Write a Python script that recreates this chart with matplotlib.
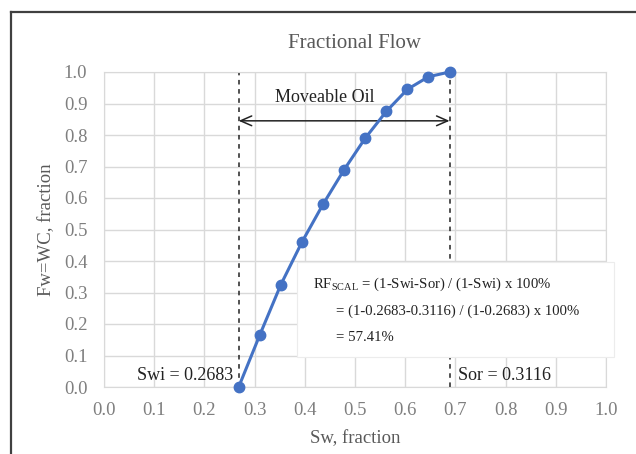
import matplotlib
matplotlib.use("Agg")
import matplotlib.pyplot as plt
from matplotlib.patches import Rectangle
from matplotlib.lines import Line2D

sw = [0.2683, 0.3103, 0.3523, 0.3943, 0.4363, 0.4784, 0.5204, 0.5624, 0.6044, 0.6464, 0.6884]
fw = [0.0, 0.165, 0.325, 0.46, 0.58, 0.69, 0.79, 0.875, 0.945, 0.985, 1.0]
swi = 0.2683
sor = 0.3116
xticks = [i / 10 for i in range(11)]
yticks = [i / 10 for i in range(11)]

plt.rcParams['font.family'] = ['Liberation Serif', 'DejaVu Serif']
gray = '#7f7f7f'

fig = plt.figure(figsize=(6.36, 4.54), dpi=100)
ax = fig.add_axes([104/636, 1-387/454, (606-104)/636, (387-72)/454])

# figure border
fig.add_artist(Line2D([11/636, 11/636], [0, 1-11.5/454], transform=fig.transFigure, color='#404040', lw=1.6))
fig.add_artist(Line2D([11/636, 1], [1-11.5/454, 1-11.5/454], transform=fig.transFigure, color='#404040', lw=1.6))

ax.set_xlim(0, 1)
ax.set_ylim(0, 1)
ax.set_xticks(xticks)
ax.set_yticks(yticks)
ax.set_xticklabels([f"{v:.1f}" for v in xticks])
ax.set_yticklabels([f"{v:.1f}" for v in yticks])
ax.grid(True, color='#d9d9d9', lw=1)
ax.set_axisbelow(True)
for s in ax.spines.values():
    s.set_color('#d9d9d9')
ax.tick_params(axis='both', length=0, colors=gray, labelsize=13.5)
ax.tick_params(axis='x', pad=11)
ax.tick_params(axis='y', pad=12)
ax.set_title('Fractional Flow', color='#595959', fontsize=15, pad=17)
ax.set_xlabel('Sw, fraction', color='#595959', fontsize=13.5, labelpad=8)
ax.set_ylabel('Fw=WC, fraction', color='#595959', fontsize=13.5, labelpad=6)

x_end = 1 - sor
ax.plot([swi, swi], [0, 1], ls=(0, (3, 3)), color='#222222', lw=1.1, zorder=2)
ax.plot([x_end, x_end], [0, 1], ls=(0, (3, 3)), color='#222222', lw=1.1, zorder=2)

ax.annotate('', xy=(swi, 0.845), xytext=(x_end, 0.845),
            arrowprops=dict(arrowstyle='<->,head_width=0.35,head_length=0.8', color='#222222', lw=1.1,
                            shrinkA=0, shrinkB=0))
ax.text(0.44, 0.92, 'Moveable Oil', ha='center', va='center', fontsize=13, color='#222222')

ax.text(0.257, 0.035, 'Swi = 0.2683', ha='right', va='center', fontsize=13, color='#222222')
ax.text(0.706, 0.035, 'Sor = 0.3116', ha='left', va='center', fontsize=13, color='#222222')

ax.add_patch(Rectangle((0.385, 0.095), 0.63, 0.302, facecolor='white', edgecolor='#ececec',
                       lw=0.8, zorder=3, clip_on=False))
fs = 10.6
ax.text(0.417, 0.326, r'RF$_{\mathregular{SCAL}}$ = (1-Swi-Sor) / (1-Swi) x 100%', ha='left', va='center',
        fontsize=fs, color='#222222', zorder=4)
ax.text(0.463, 0.24, '= (1-0.2683-0.3116) / (1-0.2683) x 100%', ha='left', va='center',
        fontsize=fs, color='#222222', zorder=4)
ax.text(0.463, 0.158, '= 57.41%', ha='left', va='center', fontsize=fs, color='#222222', zorder=4)

ax.plot(sw, fw, color='#4472c4', lw=2.2, marker='o', ms=7.5, zorder=5, clip_on=False)

fig.savefig('out.png', dpi=100)
